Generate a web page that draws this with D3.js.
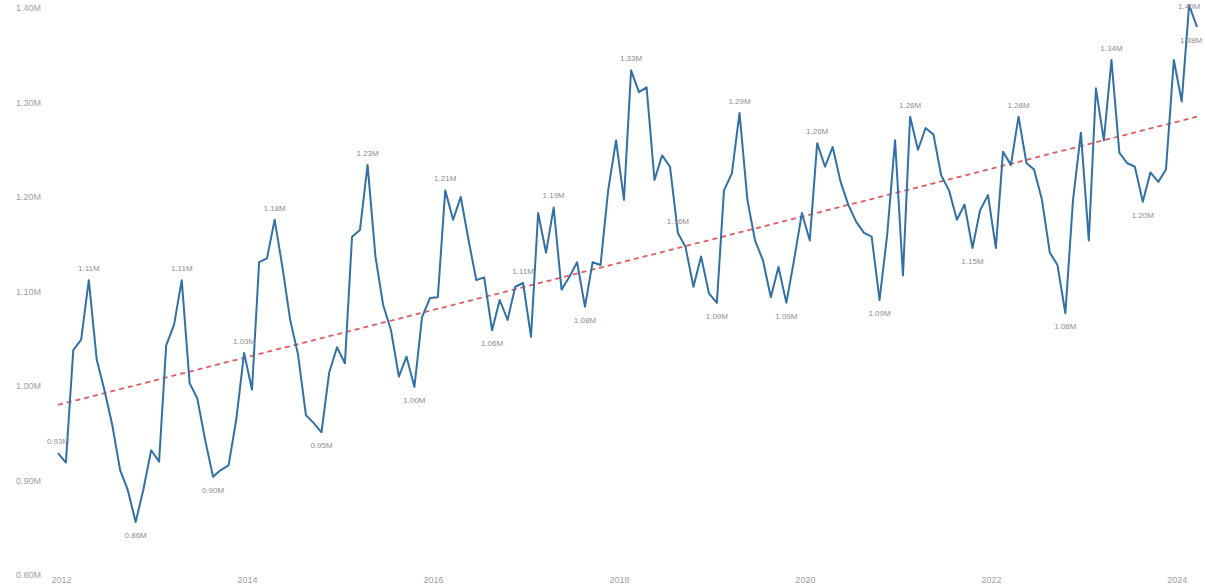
<!DOCTYPE html>
<html>
<head>
<meta charset="utf-8">
<script src="https://cdn.jsdelivr.net/npm/d3@7"></script>
<style>
body { margin: 0; background: #fff; font-family: "Liberation Sans", Arial, sans-serif; }
</style>
</head>
<body>
<script>
var width = 1205
var height = 587

// monthly values in millions, Jan 2012 onwards
var values = [
    0.929, 0.919, 1.038, 1.049, 1.112, 1.028, 0.996, 0.959, 0.911, 0.890, 0.856, 0.890,
    0.932, 0.920, 1.043, 1.065, 1.112, 1.003, 0.987, 0.943, 0.904, 0.911, 0.916, 0.964,
    1.035, 0.996, 1.131, 1.135, 1.176, 1.125, 1.070, 1.033, 0.969, 0.961, 0.951, 1.014,
    1.041, 1.024, 1.158, 1.165, 1.234, 1.137, 1.086, 1.059, 1.010, 1.031, 0.999, 1.073,
    1.093, 1.094, 1.207, 1.176, 1.200, 1.154, 1.112, 1.115, 1.059, 1.091, 1.070, 1.105,
    1.109, 1.052, 1.183, 1.141, 1.189, 1.102, 1.115, 1.131, 1.084, 1.131, 1.128, 1.207,
    1.260, 1.197, 1.334, 1.311, 1.316, 1.218, 1.244, 1.232, 1.162, 1.147, 1.105, 1.137,
    1.098, 1.088, 1.207, 1.225, 1.289, 1.197, 1.154, 1.133, 1.094, 1.126, 1.088, 1.133,
    1.183, 1.154, 1.257, 1.232, 1.253, 1.216, 1.192, 1.174, 1.162, 1.158, 1.091, 1.160,
    1.260, 1.117, 1.285, 1.250, 1.273, 1.266, 1.223, 1.207, 1.176, 1.192, 1.146, 1.186,
    1.202, 1.146, 1.248, 1.234, 1.285, 1.236, 1.229, 1.197, 1.141, 1.128, 1.077, 1.197,
    1.268, 1.154, 1.315, 1.260, 1.345, 1.247, 1.236, 1.232, 1.195, 1.226, 1.216, 1.229,
    1.345, 1.301, 1.403, 1.380
]
var startMonth = new Date(2012, 0, 1)
var months = values.map(function(v, i) { return d3.timeMonth.offset(startMonth, i) })

var yTicks = [0.8, 0.9, 1.0, 1.1, 1.2, 1.3, 1.4]
var xTicks = [2012, 2014, 2016, 2018, 2020, 2022, 2024]

// annotated points (month index)
var labelsAbove = [0, 4, 16, 24, 28, 40, 50, 60, 64, 74, 80, 88, 98, 110, 124, 136, 146]
var labelsBelow = [10, 20, 34, 46, 56, 68, 85, 94, 106, 118, 130, 140, 147]

// trend line at first and last month
var trendValues = [0.980, 1.285]

var x = d3.scaleTime()
    .domain([months[0], months[months.length - 1]])
    .range([58, 1197])

var y = d3.scaleLinear()
    .domain([0.8, 1.4])
    .range([575, 8])

var fmt = function(v) { return d3.format('.2f')(v) + 'M' }

var svg = d3.select('body').append('svg')
    .attr('width', width)
    .attr('height', height)

// y axis
var yAxis = svg.append('g')
    .attr('transform', 'translate(44,0)')
    .call(d3.axisLeft(y).tickValues(yTicks).tickFormat(fmt).tickSize(0))
yAxis.select('.domain').remove()
yAxis.selectAll('text')
    .style('font-size', '9px')
    .style('fill', '#a0a0a0')
    .style('font-family', '"Liberation Sans", Arial, sans-serif')

// x axis
var xAxis = svg.append('g')
    .attr('transform', 'translate(3,574)')
    .call(d3.axisBottom(x)
        .tickValues(xTicks.map(function(yr) { return new Date(yr, 0, 1) }))
        .tickFormat(d3.timeFormat('%Y'))
        .tickSize(0))
xAxis.select('.domain').remove()
xAxis.selectAll('text')
    .style('font-size', '9px')
    .style('fill', '#a0a0a0')
    .style('font-family', '"Liberation Sans", Arial, sans-serif')

// trend
svg.append('line')
    .attr('x1', x(months[0]))
    .attr('y1', y(trendValues[0]))
    .attr('x2', x(months[months.length - 1]))
    .attr('y2', y(trendValues[1]))
    .style('stroke', '#e25a62')
    .style('stroke-width', 1.8)
    .style('stroke-dasharray', '5,4')

// series
var line = d3.line()
    .x(function(d, i) { return x(months[i]) })
    .y(function(d) { return y(d) })

svg.append('path')
    .datum(values)
    .attr('d', line)
    .style('fill', 'none')
    .style('stroke', '#3271a6')
    .style('stroke-width', 2)
    .style('stroke-linejoin', 'round')

// point labels, kept inside the picture
function addLabels(idx, dy) {
    svg.append('g')
        .selectAll('text')
        .data(idx)
        .enter().append('text')
        .attr('x', function(i) { return Math.min(x(months[i]), width - 14) })
        .attr('y', function(i) { return Math.max(y(values[i]) + dy, 9) })
        .attr('text-anchor', 'middle')
        .style('font-size', '8px')
        .style('fill', '#8e8e8e')
        .text(function(i) { return fmt(values[i]) })
}
addLabels(labelsAbove, -9)
addLabels(labelsBelow, 16)
</script>
</body>
</html>
